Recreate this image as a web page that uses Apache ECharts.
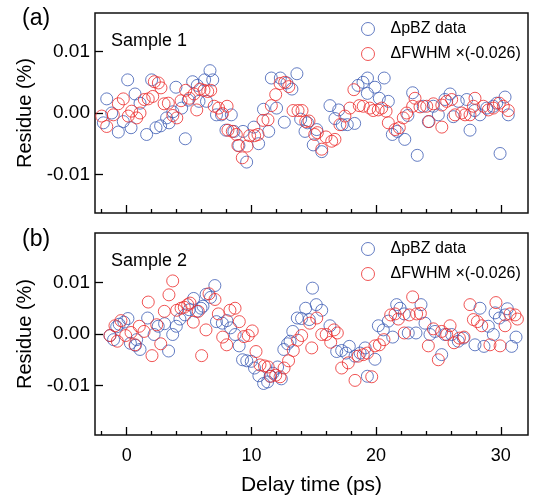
<!DOCTYPE html>
<html>
<head>
<meta charset="utf-8">
<script src="https://cdn.jsdelivr.net/npm/echarts@6/dist/echarts.min.js"></script>
<style>html,body{margin:0;padding:0;background:#fff}#c{width:536px;height:497px}</style>
</head>
<body>
<div id="c"></div>
<script>
// ---- data: [delay time (ps), residue (%)] ----
var sample1PBZ = [[-1.87,-0.0016],[-1.6,0.0023],[-1.2,0.0],[-0.67,-0.0031],[-0.27,-0.0014],[0.08,0.0054],[0.35,-0.0024],[0.67,0.0031],[1.07,0.0016],[1.6,-0.0035],[2.0,0.0054],[2.35,-0.0024],[2.72,-0.0021],[3.2,-0.0008],[3.4,-0.0016],[3.7,0.0002],[3.95,0.0042],[4.41,0.0008],[4.7,-0.0042],[4.94,0.0021],[5.29,0.0051],[5.66,0.0045],[5.8,0.0019],[6.4,0.0019],[6.25,0.0054],[6.68,0.0069],[6.9,0.0054],[7.2,-0.0003],[7.6,-0.0003],[7.96,-0.0028],[8.39,-0.0003],[8.6,-0.003],[9.0,-0.0053],[9.33,-0.003],[9.62,-0.008],[10.2,-0.0023],[10.58,-0.005],[10.97,0.0006],[11.39,-0.003],[11.6,0.0057],[12.02,0.0008],[12.32,0.0057],[12.64,-0.0015],[12.85,0.0049],[13.25,0.0039],[13.65,0.0064],[13.95,-0.001],[14.3,-0.003],[14.5,-0.0016],[14.96,-0.0052],[15.24,-0.0027],[15.64,-0.0063],[16.3,0.0012],[16.7,-0.0009],[17.0,0.0005],[17.28,-0.0019],[17.69,-0.0019],[18.28,-0.0017],[18.55,0.0045],[18.95,0.005],[19.31,0.0057],[19.3,0.0032],[19.91,0.0042],[20.26,0.0024],[20.65,0.0057],[20.98,0.0019],[21.3,-0.0035],[21.7,-0.003],[22.3,-0.0043],[22.55,-0.0004],[22.93,0.0033],[23.3,-0.0069],[23.78,0.0011],[24.19,-0.0014],[24.59,0.0011],[24.99,-0.0003],[25.52,0.0022],[25.93,0.0031],[26.19,-0.0006],[26.59,0.0019],[27.27,0.0022],[27.53,-0.0028],[27.9,0.0004],[28.33,-0.0003],[28.87,0.0008],[29.4,0.0011],[29.67,0.0016],[29.94,-0.0066],[30.34,0.0026],[30.6,-0.0003]];
var sample1FWHM = [[-2.0,-0.0005],[-1.6,-0.0022],[-1.07,-0.0003],[-0.67,0.0015],[-0.27,0.0023],[0.13,-0.0005],[0.4,0.0003],[0.8,-0.0008],[1.07,0.0],[1.41,0.0022],[1.73,0.0023],[2.09,0.0027],[2.22,0.0051],[2.54,0.0049],[2.75,0.0041],[3.0,0.0015],[3.34,0.0016],[3.7,-0.0004],[4.02,-0.0008],[4.36,0.002],[4.73,0.0037],[5.03,0.0024],[5.4,0.0031],[5.62,0.0005],[5.88,0.0039],[6.2,0.0037],[6.5,0.0035],[6.74,0.0037],[7.02,0.0011],[7.37,0.0008],[7.68,-0.0001],[8.05,0.0011],[8.12,-0.0028],[8.47,-0.003],[8.79,-0.0035],[8.92,-0.0053],[9.27,-0.0073],[9.65,-0.0054],[9.86,-0.0037],[10.26,-0.0037],[10.53,-0.0035],[10.93,-0.0012],[11.33,-0.0011],[11.6,0.0012],[11.95,0.003],[12.3,0.0048],[12.67,0.005],[13.0,0.0043],[13.34,0.0004],[13.74,0.0004],[14.06,0.0004],[14.36,-0.0014],[14.62,-0.0013],[15.08,-0.0035],[15.29,-0.0032],[15.64,-0.0059],[15.98,-0.0039],[16.44,-0.0046],[16.7,-0.0043],[17.1,-0.0019],[17.5,-0.0005],[17.9,0.0008],[18.22,0.0038],[18.65,0.0012],[18.97,0.0011],[19.5,0.0008],[19.77,0.0004],[20.17,0.0005],[20.45,0.0008],[20.8,0.0003],[20.98,-0.0016],[21.52,-0.0027],[21.86,-0.0024],[22.18,-0.0008],[22.45,0.0],[22.93,0.0011],[23.12,0.0024],[23.52,0.001],[24.06,0.0011],[24.24,-0.0014],[24.59,0.0015],[25.27,-0.0023],[25.27,0.0013],[25.66,0.0019],[26.06,0.0022],[26.33,-0.0003],[26.86,0.0],[27.13,-0.0003],[27.53,-0.0003],[27.8,0.0011],[27.93,0.0024],[28.6,0.0011],[29.0,0.0005],[29.4,0.0008],[29.88,0.0016],[30.2,0.0011],[30.6,0.0004]];
var sample2PBZ = [[-1.34,-0.0003],[-1.05,-0.0011],[-0.8,0.0014],[-0.6,0.0019],[-0.22,0.0023],[0.1,0.003],[0.3,-0.0018],[0.7,-0.0022],[0.8,-0.0011],[1.07,-0.003],[1.68,0.0031],[2.2,-0.0001],[2.53,0.0015],[3.04,0.002],[3.36,-0.0033],[3.69,-0.0001],[3.98,0.0015],[4.27,0.0029],[4.68,0.0037],[5.02,0.0047],[5.37,0.0069],[5.62,0.0044],[5.96,0.005],[6.12,0.0054],[6.37,0.0077],[6.72,0.0071],[7.07,0.0094],[7.2,0.0024],[7.67,0.0021],[8.03,0.0026],[8.33,0.0012],[8.7,-0.0001],[9.02,-0.0023],[9.29,-0.005],[9.63,-0.0052],[9.99,-0.0053],[10.25,-0.0066],[10.6,-0.0081],[10.98,-0.0096],[11.3,-0.0093],[11.5,-0.0082],[11.73,-0.0076],[12.1,-0.0064],[12.4,-0.0087],[12.6,-0.003],[12.9,-0.0019],[13.1,-0.0014],[13.32,0.0005],[13.68,0.0031],[14.02,0.003],[14.35,0.005],[14.64,0.0028],[14.9,0.0089],[15.2,0.0057],[15.64,0.0046],[16.3,0.0016],[16.84,-0.0034],[17.24,-0.0032],[17.59,-0.0037],[17.85,-0.0024],[18.31,-0.0043],[18.72,-0.0037],[19.12,-0.0027],[19.3,-0.0082],[19.91,-0.0049],[20.18,0.0016],[20.58,0.0008],[20.98,0.0025],[21.33,-0.0006],[21.65,0.0057],[21.92,0.005],[22.26,0.0039],[22.58,0.0002],[23.2,0.0002],[23.6,0.0057],[23.92,0.0021],[24.32,-0.0001],[24.72,0.0005],[25.26,-0.004],[25.52,-0.0001],[26.06,-0.0001],[26.59,-0.0014],[26.99,-0.0008],[27.93,-0.0021],[28.33,0.005],[28.65,-0.0024],[29.0,0.0015],[29.4,-0.0001],[29.54,0.0041],[29.88,0.0031],[30.34,0.0037],[30.52,0.0049],[30.87,-0.0024],[31.22,-0.0006]];
var sample2FWHM = [[-1.34,-0.0003],[-0.94,0.0016],[-0.75,-0.0014],[-0.46,0.0026],[-0.08,-0.0003],[0.35,0.0003],[0.67,-0.0021],[1.01,0.0015],[1.39,0.0005],[1.73,0.0062],[2.03,-0.0042],[2.41,0.0018],[2.73,-0.0019],[3.02,0.0044],[3.39,0.0076],[3.69,0.0103],[4.01,0.0046],[4.36,0.005],[4.62,0.0052],[4.89,0.0057],[5.08,0.006],[5.34,0.0023],[5.74,0.0044],[6.01,-0.0042],[6.36,0.0008],[6.6,0.0078],[7.08,0.0067],[7.35,0.0039],[7.7,-0.0006],[8.02,-0.0021],[8.28,0.0046],[8.69,0.005],[9.03,0.0024],[9.4,-0.0005],[9.75,-0.0003],[10.07,0.0006],[10.37,-0.0034],[10.69,-0.006],[11.05,-0.0062],[11.35,-0.0064],[11.55,-0.0082],[11.95,-0.008],[12.3,-0.0083],[12.62,-0.0066],[12.98,-0.0052],[13.36,-0.0032],[13.7,-0.0012],[14.03,-0.0003],[14.68,0.0021],[14.84,-0.0027],[15.24,0.0031],[15.64,-0.0001],[16.0,-0.0001],[16.36,-0.0016],[16.63,0.0008],[16.89,0.0002],[17.24,-0.0066],[17.77,-0.0056],[18.31,-0.009],[18.57,-0.0043],[18.97,-0.004],[19.3,-0.0037],[19.65,-0.0083],[19.91,-0.0023],[20.26,-0.0021],[20.63,-0.0011],[21.17,0.0037],[21.52,0.0039],[21.78,0.0029],[22.26,0.0002],[22.66,0.0037],[22.93,0.0072],[23.25,0.0039],[23.55,0.004],[24.19,-0.0023],[24.59,0.001],[24.99,-0.005],[25.26,0.0005],[25.66,-0.0001],[25.93,0.0016],[26.25,-0.0017],[26.68,-0.0008],[27.05,-0.0006],[27.53,0.0057],[27.8,0.0028],[28.12,0.0024],[28.47,0.0016],[29.13,-0.0021],[29.61,0.0061],[29.94,-0.0023],[30.34,0.0016],[30.74,0.0039],[31.14,0.0037],[31.33,0.0029]];

var seriesNames = ['ΔpBZ data', 'ΔFWHM ×(-0.026)'];
var panelLabels = ['(a)', '(b)'];
var sampleLabels = ['Sample 1', 'Sample 2'];
var xMajorTicks = [0, 10, 20, 30];
var xMinorTicks = [-2, 2, 4, 6, 8, 12, 14, 16, 18, 22, 24, 26, 28];
var yTicks = [-0.01, 0, 0.01];
var xAxisName = 'Delay time (ps)';
var yAxisName = 'Residue (%)';

var FONT = 'Liberation Sans, Arial, sans-serif';
var BLUE = '#3d5db4';
var RED = '#ec2b2b';

var chart = echarts.init(document.getElementById('c'), null, {renderer: 'canvas'});

var grids = [
  {left: 95, top: 13, width: 433, height: 200},
  {left: 95, top: 233, width: 433, height: 202}
];
var yRanges = [[-0.0163, 0.0163], [-0.0196, 0.0196]];

function majorX(gi, withLabels) {
  return {
    gridIndex: gi, type: 'value', min: -2.54, max: 32.18, position: 'bottom',
    axisLine: {show: false, onZero: false}, splitLine: {show: false},
    axisTick: {show: true, inside: true, length: 8, customValues: xMajorTicks, lineStyle: {color: '#000', width: 1.3}},
    axisLabel: {show: withLabels, customValues: xMajorTicks, margin: 12, fontFamily: FONT, fontSize: 18, color: '#000'},
    name: withLabels ? xAxisName : '', nameLocation: 'middle', nameGap: 40,
    nameTextStyle: {fontFamily: FONT, fontSize: 21, color: '#000'}
  };
}
function minorX(gi) {
  return {
    gridIndex: gi, type: 'value', min: -2.54, max: 32.18, position: 'bottom',
    axisLine: {show: false, onZero: false}, splitLine: {show: false},
    axisTick: {show: true, inside: true, length: 4, customValues: xMinorTicks, lineStyle: {color: '#000', width: 1.3}},
    axisLabel: {show: false}
  };
}
function yAx(gi) {
  return {
    gridIndex: gi, type: 'value', min: yRanges[gi][0], max: yRanges[gi][1], position: 'left',
    axisLine: {show: false, onZero: false}, splitLine: {show: false},
    axisTick: {show: true, inside: true, length: 8, customValues: yTicks, lineStyle: {color: '#000', width: 1.3}},
    axisLabel: {customValues: yTicks, margin: 5, fontFamily: FONT, fontSize: 19, color: '#000',
      formatter: function (v) { return (Math.abs(v) < 1e-9 ? 0 : v).toFixed(2); }},
    name: yAxisName, nameLocation: 'middle', nameGap: 60,
    nameTextStyle: {fontFamily: FONT, fontSize: 20, color: '#000'}
  };
}

function sc(name, data, color, gi) {
  return {
    type: 'scatter', name: name, data: data, xAxisIndex: gi * 2, yAxisIndex: gi,
    symbol: 'circle', symbolSize: 12,
    itemStyle: {color: 'rgba(0,0,0,0)', borderColor: color, borderWidth: 1},
    emphasis: {disabled: true}, animation: false
  };
}

function legend(top) {
  return {
    orient: 'vertical', left: 356, top: top, itemWidth: 13, itemHeight: 13, itemGap: 9,
    icon: 'circle', data: seriesNames,
    itemStyle: {borderWidth: 1},
    textStyle: {fontFamily: FONT, fontSize: 16, color: '#000', padding: [0, 0, 0, 11]}
  };
}

var option = {
  backgroundColor: '#fff',
  animation: false,
  grid: grids.map(function (g) { return Object.assign({show: true, borderColor: '#111', borderWidth: 1.5, backgroundColor: 'transparent'}, g); }),
  title: [
    {text: panelLabels[0], left: 17, top: 2, textStyle: {fontFamily: FONT, fontSize: 23, fontWeight: 'normal', color: '#000'}},
    {text: panelLabels[1], left: 17, top: 223, textStyle: {fontFamily: FONT, fontSize: 23, fontWeight: 'normal', color: '#000'}},
    {text: sampleLabels[0], left: 106, top: 27, textStyle: {fontFamily: FONT, fontSize: 18, fontWeight: 'normal', color: '#000'}},
    {text: sampleLabels[1], left: 106, top: 247, textStyle: {fontFamily: FONT, fontSize: 18, fontWeight: 'normal', color: '#000'}}
  ],
  legend: [legend(16), legend(236)],
  xAxis: [majorX(0, false), minorX(0), majorX(1, true), minorX(1)],
  yAxis: [yAx(0), yAx(1)],
  series: [
    sc(seriesNames[0], sample1PBZ, BLUE, 0),
    sc(seriesNames[1], sample1FWHM, RED, 0),
    sc(seriesNames[0], sample2PBZ, BLUE, 1),
    sc(seriesNames[1], sample2FWHM, RED, 1)
  ]
};
chart.setOption(option);
</script>
</body>
</html>
